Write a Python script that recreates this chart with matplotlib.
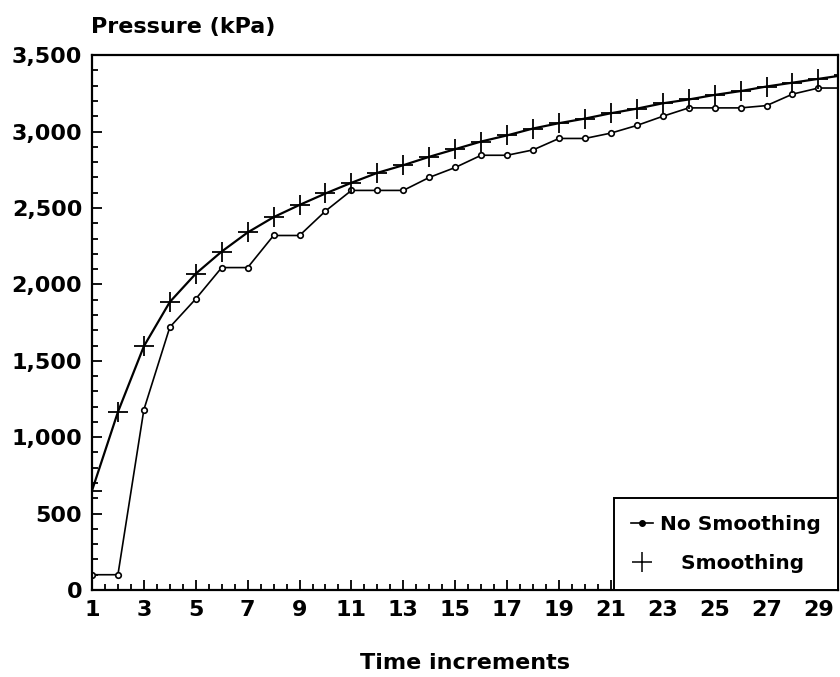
import numpy as np
import matplotlib.pyplot as plt
from matplotlib.lines import Line2D
from matplotlib.ticker import MultipleLocator, FuncFormatter

plt.rcParams['font.family'] = ['DejaVu Sans']
plt.rcParams['font.weight'] = 'bold'

# Pressure readings per time increment
steps = np.arange(1, 31)
no_smoothing = [100, 100, 1180, 1720, 1905, 2110, 2110, 2320, 2320, 2480,
                2615, 2615, 2615, 2700, 2765, 2845, 2845, 2880, 2955, 2955,
                2990, 3040, 3100, 3155, 3155, 3155, 3170, 3245, 3285, 3285]
smoothing = [650, 1165, 1595, 1885, 2070, 2215, 2340, 2440, 2520, 2595,
             2665, 2730, 2780, 2835, 2885, 2935, 2975, 3020, 3055, 3085,
             3120, 3150, 3185, 3210, 3240, 3265, 3295, 3320, 3345, 3370]
xticks = list(range(1, 30, 2))

fig = plt.figure(figsize=(8.4, 6.77), dpi=100)
ax = fig.add_axes([0.1095, 0.1285, 0.888, 0.79])

ax.plot(steps, no_smoothing, color='black', lw=1.2, marker='o', ms=4,
        mfc='white', mec='black', mew=1.2)
ax.plot(steps, smoothing, color='black', lw=1.6, marker='+', ms=14, mew=1.3)

ax.set_xlim(1, 29.75)
ax.set_ylim(0, 3500)
ax.set_xticks(xticks)
ax.xaxis.set_minor_locator(MultipleLocator(0.5))
ax.yaxis.set_major_locator(MultipleLocator(500))
ax.yaxis.set_minor_locator(MultipleLocator(100))
ax.yaxis.set_major_formatter(FuncFormatter(lambda v, p: f"{int(v):,}"))

ax.tick_params(which='both', direction='in', top=False, right=False,
               width=1.3, labelsize=16)
ax.tick_params(which='major', length=7, pad=7)
ax.tick_params(which='minor', length=4)
for s in ax.spines.values():
    s.set_linewidth(1.6)

fig.text(0.108, 0.975, "Pressure (kPa)", fontsize=16, fontweight='bold',
         ha='left', va='top')
ax.set_xlabel("Time increments", fontsize=16, fontweight='bold', labelpad=24)

handles = [Line2D([], [], color='black', lw=1.2, marker='o', ms=4, mfc='black'),
           Line2D([], [], color='black', lw=0, marker='+', ms=15, mew=1.1)]
leg = ax.legend(handles, ["No Smoothing", "   Smoothing"], loc='lower right',
                borderaxespad=0, fancybox=False, framealpha=1,
                edgecolor='black', fontsize=14.5, handlelength=1.1,
                handletextpad=0.35, labelspacing=1.0, borderpad=0.85)
leg.get_frame().set_linewidth(1.4)

plt.savefig("out.png", dpi=100)
